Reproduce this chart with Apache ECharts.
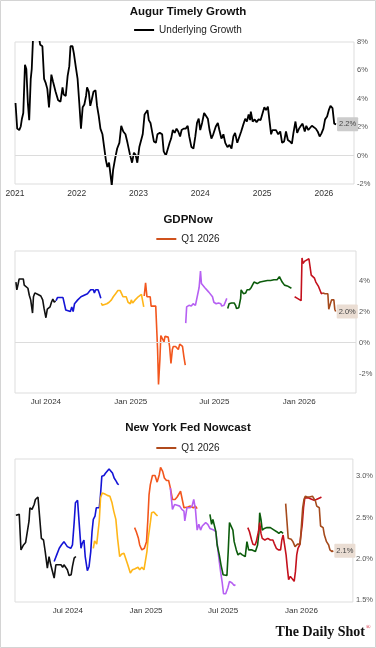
<!DOCTYPE html>
<html>
<head>
<meta charset="utf-8">
<title>Growth nowcasts</title>
<script src="https://cdn.jsdelivr.net/npm/echarts@6/dist/echarts.min.js"></script>
<style>
  html, body { margin: 0; padding: 0; background: #fff; }
  #chart { width: 376px; height: 648px; }
</style>
</head>
<body>
<div id="chart"></div>
<script>
// Augur Timely Growth, underlying growth (%)
const augur = [
  ['2021-01-04', 3.7], ['2021-01-14', 1.9], ['2021-01-26', 1.8], ['2021-02-04', 2.05], ['2021-02-11', 2.6],
  ['2021-02-19', 3.0], ['2021-03-01', 6.4], ['2021-03-09', 6.1], ['2021-03-18', 3.7], ['2021-03-26', 2.5],
  ['2021-04-04', 5.4], ['2021-04-10', 6.1], ['2021-04-18', 8.4], ['2021-05-23', 8.3], ['2021-05-30', 7.8],
  ['2021-06-12', 7.7], ['2021-06-22', 5.4], ['2021-07-02', 5.1], ['2021-07-11', 4.7], ['2021-07-21', 3.4],
  ['2021-08-04', 5.7], ['2021-08-14', 5.2], ['2021-08-29', 4.5], ['2021-09-13', 3.9], ['2021-09-27', 3.8],
  ['2021-10-09', 4.8], ['2021-10-16', 4.3], ['2021-10-28', 4.2], ['2021-11-08', 5.6], ['2021-11-18', 6.3],
  ['2021-11-25', 7.7], ['2021-12-07', 7.7], ['2021-12-15', 7.2], ['2021-12-27', 6.2], ['2022-01-06', 5.4],
  ['2022-01-16', 3.7], ['2022-01-26', 1.9], ['2022-02-05', 3.4], ['2022-02-15', 3.6], ['2022-02-25', 4.2],
  ['2022-03-03', 4.8], ['2022-03-13', 4.5], ['2022-03-22', 3.5], ['2022-03-30', 3.9], ['2022-04-10', 4.5],
  ['2022-04-22', 4.6], ['2022-05-01', 3.5], ['2022-05-11', 2.8], ['2022-05-21', 1.9], ['2022-06-02', 1.5],
  ['2022-06-12', 0.6], ['2022-06-22', -0.3], ['2022-07-01', -0.8], ['2022-07-11', -0.5], ['2022-07-21', -1.5],
  ['2022-07-27', -2.1], ['2022-08-04', -1.0], ['2022-08-16', -0.2], ['2022-08-28', 0.5], ['2022-09-10', 0.9],
  ['2022-09-21', 2.1], ['2022-10-03', 1.7], ['2022-10-16', 1.5], ['2022-10-28', 0.9], ['2022-11-12', 0.05],
  ['2022-11-24', -0.5], ['2022-12-05', 0.2], ['2022-12-15', 0.05], ['2022-12-25', -0.5], ['2023-01-06', 0.6],
  ['2023-01-16', 0.5], ['2023-01-26', 1.5], ['2023-02-06', 2.9], ['2023-02-13', 2.8], ['2023-02-23', 3.2],
  ['2023-03-03', 2.5], ['2023-03-13', 2.3], ['2023-03-22', 2.2], ['2023-04-02', 1.0], ['2023-04-14', 0.9],
  ['2023-04-23', 1.5], ['2023-05-07', 1.6], ['2023-05-21', 1.5], ['2023-05-30', 0.3], ['2023-06-12', 0.0],
  ['2023-06-22', 0.05], ['2023-07-04', 0.9], ['2023-07-13', 1.2], ['2023-07-23', 1.8], ['2023-08-03', 1.6],
  ['2023-08-14', 1.9], ['2023-08-24', 1.7], ['2023-09-04', 1.35], ['2023-09-13', 1.8], ['2023-09-25', 1.9],
  ['2023-10-07', 1.9], ['2023-10-19', 2.1], ['2023-10-28', 1.35], ['2023-11-10', 0.6], ['2023-11-22', 0.5],
  ['2023-12-03', 1.35], ['2023-12-13', 2.3], ['2023-12-23', 2.6], ['2024-01-01', 1.8], ['2024-01-12', 2.3],
  ['2024-01-24', 3.0], ['2024-02-04', 2.9], ['2024-02-15', 2.6], ['2024-02-25', 1.8], ['2024-03-07', 1.2],
  ['2024-03-18', 1.5], ['2024-04-02', 2.05], ['2024-04-14', 2.3], ['2024-04-23', 1.8], ['2024-05-05', 1.2],
  ['2024-05-17', 1.5], ['2024-05-28', 0.9], ['2024-06-10', 0.6], ['2024-06-22', 0.75], ['2024-07-04', 0.5],
  ['2024-07-15', 1.35], ['2024-07-25', 1.6], ['2024-08-07', 0.9], ['2024-08-18', 0.9], ['2024-08-30', 1.7],
  ['2024-09-12', 2.2], ['2024-09-23', 2.6], ['2024-10-03', 2.4], ['2024-10-13', 2.9], ['2024-10-22', 2.5],
  ['2024-10-26', 3.1], ['2024-11-06', 2.4], ['2024-11-18', 2.55], ['2024-11-29', 2.35], ['2024-12-11', 2.55],
  ['2024-12-23', 2.5], ['2025-01-04', 3.0], ['2025-01-14', 3.4], ['2025-01-24', 3.2], ['2025-02-04', 3.45],
  ['2025-02-13', 2.5], ['2025-02-23', 1.5], ['2025-03-03', 1.8], ['2025-03-13', 1.7], ['2025-03-24', 1.8],
  ['2025-04-06', 1.5], ['2025-04-18', 1.7], ['2025-04-29', 0.9], ['2025-05-11', 1.0], ['2025-05-22', 1.7],
  ['2025-06-02', 1.1], ['2025-06-14', 1.0], ['2025-06-26', 0.85], ['2025-07-05', 1.6], ['2025-07-17', 2.4],
  ['2025-07-27', 1.6], ['2025-08-07', 1.9], ['2025-08-18', 2.1], ['2025-08-28', 2.25], ['2025-09-10', 1.7],
  ['2025-09-19', 2.1], ['2025-10-01', 1.8], ['2025-10-11', 1.9], ['2025-10-22', 2.1], ['2025-11-02', 2.2],
  ['2025-11-14', 1.9], ['2025-11-25', 1.7], ['2025-12-07', 1.35], ['2025-12-17', 1.55], ['2025-12-29', 1.9],
  ['2026-01-08', 2.55], ['2026-01-20', 2.75], ['2026-01-30', 3.2], ['2026-02-09', 3.5], ['2026-02-21', 3.35],
  ['2026-03-03', 2.25], ['2026-03-14', 2.2]
]

// Atlanta Fed GDPNow, one run per quarter being estimated (%)
const gdpQ2_2024 = [
  ['2024-04-27', 3.9], ['2024-04-29', 3.4], ['2024-05-02', 3.8], ['2024-05-04', 4.1], ['2024-05-13', 4.1],
  ['2024-05-15', 3.7], ['2024-05-19', 3.6], ['2024-05-23', 3.5], ['2024-05-26', 3.05], ['2024-05-29', 2.75],
  ['2024-06-02', 1.9], ['2024-06-04', 2.95], ['2024-06-07', 3.2], ['2024-06-14', 3.1], ['2024-06-20', 3.0],
  ['2024-06-24', 2.75], ['2024-06-27', 2.2], ['2024-07-01', 1.6], ['2024-07-04', 2.15], ['2024-07-07', 2.05],
  ['2024-07-10', 2.3], ['2024-07-13', 2.6], ['2024-07-16', 2.8], ['2024-07-19', 2.6], ['2024-07-22', 2.7]
]
const gdpQ3_2024 = [
  ['2024-07-23', 2.7], ['2024-07-26', 2.9], ['2024-07-30', 2.85], ['2024-08-02', 2.9], ['2024-08-07', 2.9],
  ['2024-08-09', 2.8], ['2024-08-13', 2.1], ['2024-08-17', 2.0], ['2024-08-23', 2.0], ['2024-08-26', 2.3],
  ['2024-08-29', 2.0], ['2024-09-01', 2.5], ['2024-09-04', 2.5], ['2024-09-08', 2.75], ['2024-09-12', 2.8],
  ['2024-09-15', 2.95], ['2024-09-18', 2.85], ['2024-09-22', 3.05], ['2024-09-25', 3.0], ['2024-09-29', 3.15],
  ['2024-10-03', 3.1], ['2024-10-06', 3.4], ['2024-10-12', 3.4], ['2024-10-14', 3.2], ['2024-10-17', 3.4],
  ['2024-10-22', 3.4], ['2024-10-25', 3.15], ['2024-10-28', 2.85]
]
const gdpQ4_2024 = [
  ['2024-10-29', 2.55], ['2024-10-31', 2.4], ['2024-11-04', 2.5], ['2024-11-10', 2.5], ['2024-11-15', 2.6],
  ['2024-11-20', 2.75], ['2024-11-24', 2.95], ['2024-11-29', 3.15], ['2024-12-04', 3.35], ['2024-12-09', 3.35],
  ['2024-12-12', 3.15], ['2024-12-15', 2.95], ['2024-12-19', 3.05], ['2024-12-22', 2.95], ['2024-12-26', 2.6],
  ['2024-12-31', 2.5], ['2025-01-02', 2.75], ['2025-01-05', 2.55], ['2025-01-09', 2.7], ['2025-01-12', 2.8],
  ['2025-01-17', 2.95], ['2025-01-21', 3.05], ['2025-01-24', 3.1], ['2025-01-27', 3.0], ['2025-01-28', 3.2],
  ['2025-01-29', 2.3]
]
const gdpQ1_2025 = [
  ['2025-01-30', 3.0], ['2025-02-02', 3.85], ['2025-02-05', 2.95], ['2025-02-09', 2.95], ['2025-02-12', 2.95],
  ['2025-02-14', 2.35], ['2025-02-24', 2.35], ['2025-02-26', 2.3], ['2025-02-28', -0.45], ['2025-03-02', -2.7],
  ['2025-03-05', -1.1], ['2025-03-07', 0.45], ['2025-03-11', 0.35], ['2025-03-14', 0.05], ['2025-03-16', 0.4],
  ['2025-03-20', 0.3], ['2025-03-23', 0.35], ['2025-03-26', -0.25], ['2025-03-29', -1.35], ['2025-04-01', -0.45],
  ['2025-04-03', -0.25], ['2025-04-08', -0.25], ['2025-04-11', -0.15], ['2025-04-14', -0.45], ['2025-04-17', -0.1],
  ['2025-04-21', -0.15], ['2025-04-23', -0.25], ['2025-04-26', -0.9], ['2025-04-29', -1.45]
]
const gdpQ2_2025 = [
  ['2025-04-30', 1.25], ['2025-05-02', 2.3], ['2025-05-07', 2.4], ['2025-05-12', 2.35], ['2025-05-16', 2.5],
  ['2025-05-21', 2.4], ['2025-05-25', 2.3], ['2025-05-29', 3.55], ['2025-06-01', 4.6], ['2025-06-03', 3.8],
  ['2025-06-07', 3.75], ['2025-06-10', 3.55], ['2025-06-14', 3.5], ['2025-06-19', 3.25], ['2025-06-23', 3.2],
  ['2025-06-27', 2.95], ['2025-06-30', 2.6], ['2025-07-05', 2.5], ['2025-07-10', 2.55], ['2025-07-15', 2.5],
  ['2025-07-17', 2.35], ['2025-07-22', 2.4], ['2025-07-25', 2.5], ['2025-07-28', 2.85]
]
const gdpQ3_2025 = [
  ['2025-07-30', 2.2], ['2025-08-02', 2.5], ['2025-08-07', 2.55], ['2025-08-13', 2.55], ['2025-08-16', 2.4],
  ['2025-08-18', 2.2], ['2025-08-23', 2.25], ['2025-08-27', 2.85], ['2025-08-28', 3.4], ['2025-09-02', 3.15],
  ['2025-09-07', 3.2], ['2025-09-10', 3.4], ['2025-09-15', 3.4], ['2025-09-19', 3.55], ['2025-09-22', 3.55],
  ['2025-09-25', 3.9], ['2025-09-28', 3.8], ['2025-10-02', 3.8], ['2025-10-08', 3.9], ['2025-10-16', 3.95],
  ['2025-10-24', 4.0], ['2025-10-31', 4.0], ['2025-11-07', 4.05], ['2025-11-14', 4.05], ['2025-11-19', 4.25],
  ['2025-11-22', 4.25], ['2025-11-25', 3.9], ['2025-11-28', 3.85], ['2025-11-30', 3.7], ['2025-12-03', 3.6],
  ['2025-12-06', 3.65], ['2025-12-10', 3.55], ['2025-12-15', 3.5]
]
const gdpQ4_2025 = [
  ['2025-12-22', 2.95], ['2025-12-28', 2.85], ['2026-01-01', 2.75], ['2026-01-05', 2.7], ['2026-01-07', 5.45],
  ['2026-01-09', 5.1], ['2026-01-13', 5.25], ['2026-01-17', 5.35], ['2026-01-22', 5.4], ['2026-01-24', 5.3],
  ['2026-01-27', 4.35], ['2026-01-31', 4.25], ['2026-02-03', 4.15], ['2026-02-06', 3.9], ['2026-02-09', 3.8],
  ['2026-02-12', 3.6], ['2026-02-15', 3.55], ['2026-02-18', 3.15], ['2026-02-21', 3.2]
]
const gdpQ1_2026 = [
  ['2026-02-21', 3.2], ['2026-02-26', 3.15], ['2026-03-01', 3.25], ['2026-03-04', 3.15], ['2026-03-06', 2.15],
  ['2026-03-10', 2.15], ['2026-03-12', 2.75], ['2026-03-15', 2.85], ['2026-03-17', 2.75], ['2026-03-19', 2.15],
  ['2026-03-21', 2.0]
]

// New York Fed Staff Nowcast, one run per quarter (%)
const nyQ2_2024 = [
  ['2024-03-01', 2.53], ['2024-03-09', 2.54], ['2024-03-13', 2.11], ['2024-03-19', 2.17], ['2024-03-24', 2.2],
  ['2024-03-28', 2.22], ['2024-04-01', 2.46], ['2024-04-03', 2.62], ['2024-04-08', 2.6], ['2024-04-13', 2.66],
  ['2024-04-16', 2.72], ['2024-04-22', 2.75], ['2024-04-25', 2.74], ['2024-04-30', 2.25], ['2024-05-05', 2.23],
  ['2024-05-09', 2.09], ['2024-05-14', 1.89], ['2024-05-18', 2.03], ['2024-05-22', 1.93], ['2024-05-26', 1.95],
  ['2024-05-30', 1.77], ['2024-06-03', 1.93], ['2024-06-07', 1.91], ['2024-06-15', 1.93], ['2024-06-19', 1.9],
  ['2024-06-22', 1.93], ['2024-06-26', 1.95], ['2024-06-30', 1.87], ['2024-07-04', 1.8], ['2024-07-09', 1.81],
  ['2024-07-12', 1.91], ['2024-07-16', 2.01], ['2024-07-20', 2.03]
]
const nyQ3_2024 = [
  ['2024-05-30', 1.97], ['2024-06-05', 2.05], ['2024-06-11', 2.13], ['2024-06-16', 2.17], ['2024-06-22', 2.21],
  ['2024-06-26', 2.22], ['2024-06-30', 2.15], ['2024-07-04', 2.17], ['2024-07-08', 2.13], ['2024-07-12', 2.17],
  ['2024-07-16', 2.44], ['2024-07-19', 2.68], ['2024-07-24', 2.71], ['2024-07-28', 2.7], ['2024-08-01', 2.13],
  ['2024-08-04', 2.19], ['2024-08-08', 2.23], ['2024-08-11', 2.03], ['2024-08-16', 1.86], ['2024-08-20', 1.91],
  ['2024-08-24', 2.09], ['2024-08-27', 2.33], ['2024-08-30', 2.48], ['2024-09-03', 2.52], ['2024-09-06', 2.62],
  ['2024-09-10', 2.6], ['2024-09-13', 2.62], ['2024-09-16', 2.78], ['2024-09-19', 3.0], ['2024-09-24', 3.01],
  ['2024-09-28', 3.04], ['2024-10-02', 3.06], ['2024-10-06', 3.09], ['2024-10-09', 3.1], ['2024-10-14', 3.04],
  ['2024-10-18', 2.98], ['2024-10-23', 2.94], ['2024-10-26', 2.91], ['2024-10-29', 2.9]
]
const nyQ4_2024 = [
  ['2024-08-30', 2.13], ['2024-09-02', 2.22], ['2024-09-07', 2.18], ['2024-09-10', 2.17], ['2024-09-13', 2.46],
  ['2024-09-16', 2.74], ['2024-09-20', 2.8], ['2024-09-25', 2.79], ['2024-10-02', 2.77], ['2024-10-08', 2.76],
  ['2024-10-13', 2.68], ['2024-10-17', 2.58], ['2024-10-22', 2.48], ['2024-10-26', 2.25], ['2024-10-31', 2.03],
  ['2024-11-05', 2.06], ['2024-11-10', 2.07], ['2024-11-14', 2.05], ['2024-11-19', 1.93], ['2024-11-25', 1.83],
  ['2024-11-30', 1.87], ['2024-12-05', 1.88], ['2024-12-08', 1.86], ['2024-12-13', 1.9], ['2024-12-17', 1.87],
  ['2024-12-22', 1.9], ['2024-12-27', 1.87], ['2024-12-31', 1.89], ['2025-01-03', 2.09], ['2025-01-06', 2.25],
  ['2025-01-11', 2.44], ['2025-01-14', 2.56], ['2025-01-19', 2.57], ['2025-01-24', 2.54], ['2025-01-28', 2.52]
]
const nyQ1_2025 = [
  ['2024-12-05', 2.38], ['2024-12-09', 2.33], ['2024-12-14', 2.25], ['2024-12-17', 2.17], ['2024-12-22', 2.11],
  ['2024-12-25', 2.09], ['2024-12-28', 2.13], ['2025-01-02', 2.21], ['2025-01-05', 2.46], ['2025-01-08', 2.78],
  ['2025-01-11', 2.9], ['2025-01-16', 3.01], ['2025-01-22', 3.01], ['2025-01-27', 2.93], ['2025-02-01', 3.02],
  ['2025-02-04', 3.11], ['2025-02-09', 3.06], ['2025-02-13', 2.98], ['2025-02-18', 2.95], ['2025-02-23', 2.95],
  ['2025-02-27', 2.86], ['2025-03-04', 2.72], ['2025-03-10', 2.72], ['2025-03-15', 2.75], ['2025-03-23', 2.82],
  ['2025-03-27', 2.72], ['2025-03-31', 2.62], ['2025-04-04', 2.62], ['2025-04-09', 2.63], ['2025-04-15', 2.64],
  ['2025-04-22', 2.62], ['2025-04-27', 2.64], ['2025-05-01', 2.61]
]
const nyQ2_2025 = [
  ['2025-02-27', 2.86], ['2025-03-04', 2.6], ['2025-03-09', 2.66], ['2025-03-15', 2.65], ['2025-03-21', 2.64],
  ['2025-03-26', 2.6], ['2025-03-31', 2.58], ['2025-04-02', 2.46], ['2025-04-07', 2.62], ['2025-04-14', 2.62],
  ['2025-04-19', 2.64], ['2025-04-23', 2.72], ['2025-04-27', 2.6], ['2025-05-01', 2.35], ['2025-05-05', 2.42],
  ['2025-05-09', 2.35], ['2025-05-13', 2.4], ['2025-05-17', 2.42], ['2025-05-21', 2.44], ['2025-05-26', 2.42],
  ['2025-05-31', 2.37], ['2025-06-04', 2.38], ['2025-06-09', 2.35], ['2025-06-14', 2.33], ['2025-06-17', 2.19],
  ['2025-06-21', 2.01], ['2025-06-25', 1.85], ['2025-06-29', 1.71], ['2025-07-02', 1.58], ['2025-07-07', 1.58],
  ['2025-07-12', 1.65], ['2025-07-16', 1.73], ['2025-07-22', 1.71], ['2025-07-27', 1.68], ['2025-07-30', 1.69]
]
const nyQ3_2025 = [
  ['2025-05-31', 2.54], ['2025-06-04', 2.42], ['2025-06-07', 2.48], ['2025-06-11', 2.5], ['2025-06-14', 2.33],
  ['2025-06-17', 2.17], ['2025-06-22', 2.05], ['2025-06-26', 1.93], ['2025-07-01', 1.81], ['2025-07-05', 1.8],
  ['2025-07-10', 1.8], ['2025-07-13', 2.09], ['2025-07-16', 2.44], ['2025-07-20', 2.42], ['2025-07-24', 2.35],
  ['2025-07-27', 2.21], ['2025-08-01', 2.11], ['2025-08-05', 2.05], ['2025-08-10', 2.07], ['2025-08-15', 2.05],
  ['2025-08-18', 2.07], ['2025-08-22', 2.03], ['2025-08-26', 2.21], ['2025-08-30', 2.11], ['2025-09-03', 2.13],
  ['2025-09-07', 2.11], ['2025-09-11', 2.1], ['2025-09-15', 2.09], ['2025-09-20', 2.17], ['2025-09-23', 2.31],
  ['2025-09-25', 2.56], ['2025-09-28', 2.48], ['2025-10-01', 2.35], ['2025-10-06', 2.37], ['2025-10-12', 2.38],
  ['2025-10-20', 2.38], ['2025-10-24', 2.37], ['2025-10-29', 2.35], ['2025-11-04', 2.33], ['2025-11-09', 2.31],
  ['2025-11-14', 2.33], ['2025-11-19', 2.31]
]
const nyQ4_2025 = [
  ['2025-08-28', 2.38], ['2025-09-01', 2.33], ['2025-09-06', 2.23], ['2025-09-09', 2.18], ['2025-09-14', 2.17],
  ['2025-09-17', 2.21], ['2025-09-22', 2.33], ['2025-09-25', 2.44], ['2025-09-28', 2.31], ['2025-10-01', 2.25],
  ['2025-10-07', 2.23], ['2025-10-14', 2.25], ['2025-10-20', 2.23], ['2025-10-26', 2.23], ['2025-10-29', 2.19],
  ['2025-11-03', 2.13], ['2025-11-08', 2.11], ['2025-11-13', 2.11], ['2025-11-16', 2.23], ['2025-11-19', 2.29],
  ['2025-11-23', 2.27], ['2025-11-26', 2.05], ['2025-11-29', 1.89], ['2025-12-02', 1.75], ['2025-12-06', 1.79],
  ['2025-12-10', 1.81], ['2025-12-15', 1.73], ['2025-12-18', 1.85], ['2025-12-21', 2.05], ['2025-12-24', 2.13],
  ['2025-12-28', 2.17], ['2025-12-31', 2.17], ['2026-01-03', 2.42], ['2026-01-06', 2.62], ['2026-01-09', 2.74],
  ['2026-01-12', 2.75], ['2026-01-17', 2.74], ['2026-01-22', 2.73], ['2026-01-26', 2.74], ['2026-01-31', 2.71],
  ['2026-02-05', 2.72], ['2026-02-09', 2.73], ['2026-02-14', 2.74], ['2026-02-17', 2.75]
]
const nyQ1_2026 = [
  ['2025-11-25', 2.67], ['2025-11-28', 2.46], ['2025-12-01', 2.25], ['2025-12-04', 2.23], ['2025-12-08', 2.24],
  ['2025-12-12', 2.21], ['2025-12-17', 2.15], ['2025-12-20', 2.17], ['2025-12-23', 2.18], ['2025-12-26', 2.17],
  ['2025-12-29', 2.18], ['2026-01-01', 2.4], ['2026-01-04', 2.62], ['2026-01-07', 2.72], ['2026-01-10', 2.76],
  ['2026-01-15', 2.75], ['2026-01-20', 2.75], ['2026-01-24', 2.75], ['2026-01-27', 2.76], ['2026-01-31', 2.74],
  ['2026-02-03', 2.7], ['2026-02-06', 2.64], ['2026-02-09', 2.66], ['2026-02-12', 2.62], ['2026-02-15', 2.4],
  ['2026-02-18', 2.4], ['2026-02-21', 2.38], ['2026-02-24', 2.29], ['2026-03-01', 2.21], ['2026-03-06', 2.17],
  ['2026-03-09', 2.11], ['2026-03-14', 2.09], ['2026-03-17', 2.1]
]

const quarterNames = ['Q2 2024', 'Q3 2024', 'Q4 2024', 'Q1 2025', 'Q2 2025', 'Q3 2025', 'Q4 2025', 'Q1 2026']
const quarterColors = ['#111111', '#1414d6', '#ffb618', '#f2561d', '#b660f2', '#0c5c0c', '#c4111d', '#a54a1c']
const gdpRuns = [gdpQ2_2024, gdpQ3_2024, gdpQ4_2024, gdpQ1_2025, gdpQ2_2025, gdpQ3_2025, gdpQ4_2025, gdpQ1_2026]
const nyRuns = [nyQ2_2024, nyQ3_2024, nyQ4_2024, nyQ1_2025, nyQ2_2025, nyQ3_2025, nyQ4_2025, nyQ1_2026]
const monthNames = ['Jan', 'Feb', 'Mar', 'Apr', 'May', 'Jun', 'Jul', 'Aug', 'Sep', 'Oct', 'Nov', 'Dec']

const FONT = '"Liberation Sans", Arial, sans-serif'

const chart = echarts.init(document.getElementById('chart'), null, { renderer: 'canvas' })

function lineSeries (name, data, color, axis, extra) {
  return Object.assign({
    name: name,
    type: 'line',
    xAxisIndex: axis,
    yAxisIndex: axis,
    data: data,
    symbol: 'none',
    showSymbol: false,
    z: 3,
    lineStyle: { width: 1.6, color: color },
    itemStyle: { color: color },
    emphasis: { disabled: true },
    silent: true
  }, extra || {})
}

function endLabel (bg) {
  return {
    show: true,
    formatter: (p) => p.value[1].toFixed(1) + '%',
    backgroundColor: bg,
    color: '#444',
    fontSize: 7.5,
    fontFamily: FONT,
    padding: [3, 2, 3, 2],
    borderRadius: 1,
    distance: 1
  }
}

function zeroLine (axis) {
  return {
    name: 'zero' + axis,
    type: 'line',
    xAxisIndex: axis,
    yAxisIndex: axis,
    data: [],
    z: 1,
    silent: true,
    markLine: {
      silent: true,
      symbol: 'none',
      label: { show: false },
      lineStyle: { color: '#dcdcdc', width: 1, type: 'solid' },
      data: [{ yAxis: 0 }]
    }
  }
}

// only January and July get a label on the nowcast panels
function halfYearLabel (v) {
  const d = new Date(v)
  const m = d.getMonth()
  if ((m !== 0 && m !== 6) || d.getDate() !== 1) return ''
  return monthNames[m] + ' ' + d.getFullYear()
}

const xCommon = {
  type: 'time',
  axisLine: { show: false },
  axisTick: { show: false },
  splitLine: { show: false }
}
const yCommon = {
  type: 'value',
  position: 'right',
  axisLine: { show: false },
  axisTick: { show: false },
  splitLine: { show: false }
}
const titleStyle = { fontSize: 11.5, fontWeight: 'bold', color: '#111', fontFamily: FONT }
const legendCommon = {
  left: 'center',
  icon: 'rect',
  itemWidth: 20,
  itemHeight: 2,
  itemGap: 10,
  selectedMode: false,
  textStyle: { fontSize: 10, color: '#222', fontFamily: FONT }
}
const gridCommon = { show: true, borderColor: '#dddddd', borderWidth: 1, backgroundColor: '#fff' }
const yLabel = { fontSize: 7.5, color: '#555', margin: 3 }

const series = [
  zeroLine(0),
  lineSeries('Underlying Growth', augur, '#000', 0, {
    lineStyle: { width: 1.8, color: '#000' },
    endLabel: endLabel('#cccccc')
  }),
  zeroLine(1)
]
gdpRuns.forEach((run, i) => {
  const last = i === gdpRuns.length - 1
  series.push(lineSeries(last ? 'Q1 2026' : 'GDPNow ' + quarterNames[i], run, quarterColors[i], 1,
    last ? { endLabel: endLabel('#eaddd3') } : {}))
})
nyRuns.forEach((run, i) => {
  const last = i === nyRuns.length - 1
  series.push(lineSeries(last ? 'Q1 2026' : 'NY Fed ' + quarterNames[i], run, quarterColors[i], 2,
    last ? { endLabel: endLabel('#eaddd3') } : {}))
})

chart.setOption({
  animation: false,
  backgroundColor: '#fff',
  textStyle: { fontFamily: FONT },
  title: [
    { text: 'Augur Timely Growth', left: 'center', top: 1, textStyle: titleStyle },
    { text: 'GDPNow', left: 'center', top: 209, textStyle: titleStyle },
    { text: 'New York Fed Nowcast', left: 'center', top: 417, textStyle: titleStyle }
  ],
  legend: [
    Object.assign({ top: 20, data: ['Underlying Growth'] }, legendCommon),
    Object.assign({ top: 229, data: [{ name: 'Q1 2026', itemStyle: { color: '#d0521d' } }] }, legendCommon),
    Object.assign({ top: 438, data: [{ name: 'Q1 2026', itemStyle: { color: '#b04a1c' } }] }, legendCommon)
  ],
  grid: [
    Object.assign({ left: 15, right: 22, top: 42, height: 142 }, gridCommon),
    Object.assign({ left: 15, right: 20, top: 251, height: 142 }, gridCommon),
    Object.assign({ left: 15, right: 23, top: 459, height: 143 }, gridCommon)
  ],
  xAxis: [
    Object.assign({}, xCommon, {
      gridIndex: 0,
      min: '2021-01-01',
      max: '2026-06-28',
      minInterval: 360 * 24 * 3600 * 1000,
      axisLabel: { fontSize: 8.5, color: '#333', margin: 5, formatter: (v) => String(new Date(v).getFullYear()) }
    }),
    Object.assign({}, xCommon, {
      gridIndex: 1,
      min: '2024-04-25',
      max: '2026-05-04',
      axisLabel: { fontSize: 8, color: '#333', margin: 5, formatter: halfYearLabel }
    }),
    Object.assign({}, xCommon, {
      gridIndex: 2,
      min: '2024-02-28',
      max: '2026-05-02',
      axisLabel: { fontSize: 8, color: '#333', margin: 5, formatter: halfYearLabel }
    })
  ],
  yAxis: [
    Object.assign({}, yCommon, {
      gridIndex: 0,
      min: -2,
      max: 8,
      interval: 2,
      axisLabel: Object.assign({ formatter: (v) => v + '%' }, yLabel)
    }),
    Object.assign({}, yCommon, {
      gridIndex: 1,
      min: -3.25,
      max: 5.9,
      interval: 0.25,
      axisLabel: Object.assign({
        formatter: (v) => Math.abs(v / 2 - Math.round(v / 2)) < 1e-6 ? Math.round(v) + '%' : ''
      }, yLabel)
    }),
    Object.assign({}, yCommon, {
      gridIndex: 2,
      min: 1.48,
      max: 3.21,
      interval: 0.01,
      axisLabel: Object.assign({
        formatter: (v) => Math.abs(v * 2 - Math.round(v * 2)) < 1e-6 ? v.toFixed(1) + '%' : ''
      }, yLabel)
    })
  ],
  series: series,
  graphic: [
    {
      type: 'rect',
      silent: true,
      shape: { x: 0.5, y: 0.5, width: 375, height: 647 },
      style: { fill: 'none', stroke: '#d4d4d4', lineWidth: 1 }
    },
    {
      type: 'text',
      silent: true,
      x: 365,
      y: 632,
      style: {
        text: 'The Daily Shot',
        font: 'bold 14px "Liberation Serif", "DejaVu Serif", serif',
        fill: '#111',
        align: 'right',
        verticalAlign: 'middle'
      }
    },
    {
      type: 'text',
      silent: true,
      x: 366,
      y: 627,
      style: {
        text: '®',
        font: '6px "Liberation Serif", serif',
        fill: '#d0021b',
        align: 'left',
        verticalAlign: 'middle'
      }
    }
  ]
})
</script>
</body>
</html>
